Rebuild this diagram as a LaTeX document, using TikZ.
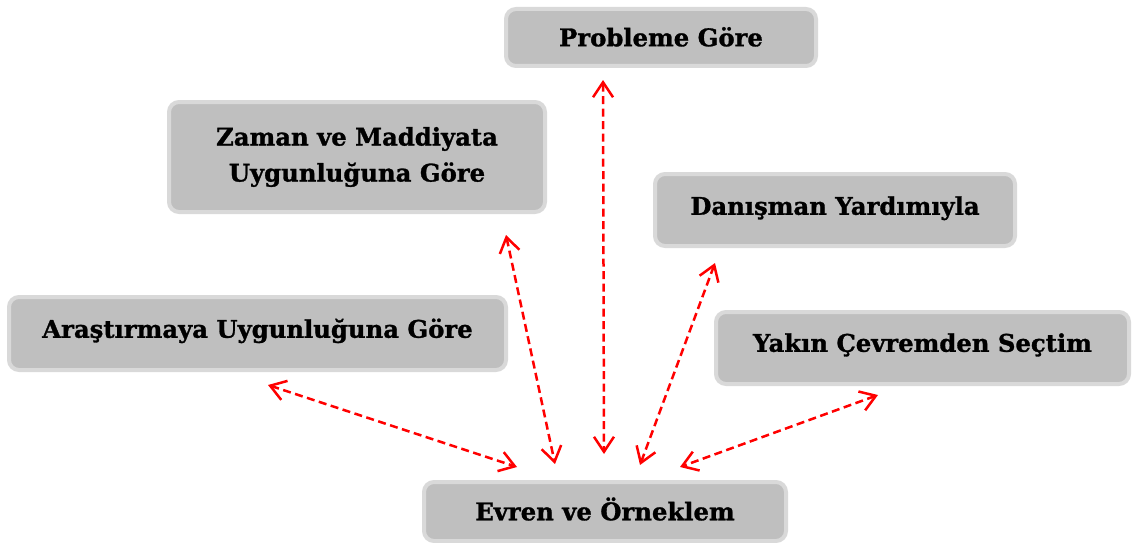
\documentclass[tikz,border=0pt]{standalone}
\usepackage{fontspec}
\setmainfont{DejaVu Serif}[BoldFeatures={FakeBold=1.2}]
\usetikzlibrary{arrows.meta}
\definecolor{boxfill}{HTML}{BFBFBF}
\definecolor{boxedge}{HTML}{D9D9D9}
\definecolor{linkred}{HTML}{FF0000}
\begin{document}
\begin{tikzpicture}[x=1pt,y=-1pt,
  box/.style={draw=boxedge, fill=boxfill, line width=4pt, rounded corners=10pt,
    inner sep=0pt, outer sep=0pt, align=center,
    font=\bfseries\fontsize{24.3}{36}\selectfont},
  oneline/.style={text height=17.5pt, text depth=#1},
  oneline/.default=0pt,
  barb/.tip={Straight Barb[length=15pt,width=20pt]},
  link/.style={draw=linkred, line width=2.5pt, dash pattern=on 8pt off 4.5pt, barb-barb}]
\useasboundingbox (0,0) rectangle (1132,543);

\node[box, oneline, minimum width=310pt, minimum height=57pt] (prob) at (661,37.5) {Probleme Göre};
\node[box, minimum width=376pt, minimum height=110pt] (zaman) at (357,157) {Zaman ve Maddiyata\\Uygunluğuna Göre};
\node[box, oneline=8pt, minimum width=360pt, minimum height=72pt] (dan) at (835,210) {Danışman Yardımıyla};
\node[box, oneline=9pt, minimum width=497pt, minimum height=73pt] (ara) at (257.5,333.5) {Araştırmaya Uygunluğuna Göre};
\node[box, oneline=10pt, minimum width=413pt, minimum height=72pt] (yak) at (922.5,348) {Yakın Çevremden Seçtim};
\node[box, oneline, minimum width=362pt, minimum height=59pt] (evr) at (605,511.5) {Evren ve Örneklem};

\coordinate (a1s) at (268,385);  \coordinate (a1e) at (517,467);
\coordinate (a2s) at (506,235);  \coordinate (a2e) at (555,464);
\coordinate (a3s) at (603,80);   \coordinate (a3e) at (604,454);
\coordinate (a4s) at (715,263);  \coordinate (a4e) at (640,465);
\coordinate (a5s) at (878,395);  \coordinate (a5e) at (680,467);

\draw[link] (a1s) -- (a1e);
\draw[link] (a2s) -- (a2e);
\draw[link] (a3s) -- (a3e);
\draw[link] (a4s) -- (a4e);
\draw[link] (a5s) -- (a5e);
\end{tikzpicture}
\end{document}
